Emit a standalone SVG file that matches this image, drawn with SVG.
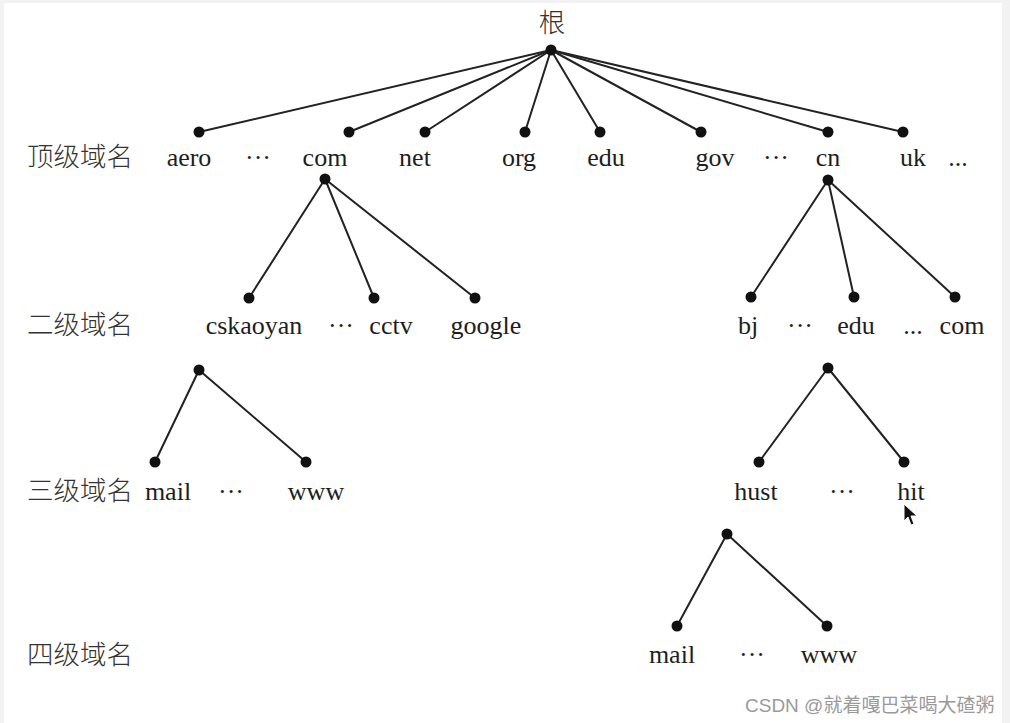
<svg xmlns="http://www.w3.org/2000/svg" width="1010" height="723" viewBox="0 0 1010 723">
<style>
.bg{fill:#f2f2f2}
.pg{fill:#ffffff}
.e{stroke:#222;stroke-width:2;fill:none;stroke-linecap:round}
.d{fill:#111}
.t{font-family:"Liberation Serif","Times New Roman",serif;font-size:26px;fill:#1e1e1e;text-anchor:middle}
.lv{font-family:"Noto Sans CJK SC","Liberation Serif",sans-serif;font-size:26.5px;fill:#333;font-weight:300}
.wm{font-family:"Liberation Sans","Noto Sans CJK SC",sans-serif;font-size:19px;fill:#9a9a9a}
</style>
<rect class="bg" x="0" y="0" width="1010" height="723"/>
<rect class="pg" x="4" y="3" width="998" height="720"/>
<g id="connectors">
<line class="e" x1="551" y1="50" x2="199" y2="132"/>
<line class="e" x1="551" y1="50" x2="349" y2="132"/>
<line class="e" x1="551" y1="50" x2="425" y2="132"/>
<line class="e" x1="551" y1="50" x2="525" y2="132"/>
<line class="e" x1="551" y1="50" x2="600" y2="132"/>
<line class="e" x1="551" y1="50" x2="701" y2="132"/>
<line class="e" x1="551" y1="50" x2="828" y2="132"/>
<line class="e" x1="551" y1="50" x2="903" y2="132"/>
<line class="e" x1="325" y1="179" x2="249" y2="298"/>
<line class="e" x1="325" y1="179" x2="374" y2="298"/>
<line class="e" x1="325" y1="179" x2="475" y2="298"/>
<line class="e" x1="828" y1="180" x2="751" y2="297"/>
<line class="e" x1="828" y1="180" x2="854" y2="297"/>
<line class="e" x1="828" y1="180" x2="955" y2="297"/>
<line class="e" x1="199" y1="370" x2="155" y2="462"/>
<line class="e" x1="199" y1="370" x2="306" y2="462"/>
<line class="e" x1="828" y1="368" x2="759" y2="462"/>
<line class="e" x1="828" y1="368" x2="904" y2="462"/>
<line class="e" x1="727" y1="534" x2="677" y2="626"/>
<line class="e" x1="727" y1="534" x2="827" y2="626"/>
</g>
<g id="levels">
<text class="lv" x="27" y="166">顶级域名</text>
<text class="lv" x="27" y="334">二级域名</text>
<text class="lv" x="27" y="500">三级域名</text>
<text class="lv" x="27" y="664">四级域名</text>
</g>
<g id="root"><circle class="d" cx="551" cy="50" r="5.5"/><text class="lv" x="552" y="32" text-anchor="middle">根</text></g>
<g id="aero"><circle class="d" cx="199" cy="132" r="5.5"/><text class="t" x="189" y="166">aero</text></g>
<g id="com"><circle class="d" cx="349" cy="132" r="5.5"/><circle class="d" cx="325" cy="179" r="5.5"/><text class="t" x="325" y="166">com</text></g>
<g id="net"><circle class="d" cx="425" cy="132" r="5.5"/><text class="t" x="415" y="166">net</text></g>
<g id="org"><circle class="d" cx="525" cy="132" r="5.5"/><text class="t" x="519" y="166">org</text></g>
<g id="edu"><circle class="d" cx="600" cy="132" r="5.5"/><text class="t" x="606" y="166">edu</text></g>
<g id="gov"><circle class="d" cx="701" cy="132" r="5.5"/><text class="t" x="715" y="166">gov</text></g>
<g id="cn"><circle class="d" cx="828" cy="132" r="5.5"/><circle class="d" cx="828" cy="180" r="5.5"/><text class="t" x="828" y="166">cn</text></g>
<g id="uk"><circle class="d" cx="903" cy="132" r="5.5"/><text class="t" x="913" y="166">uk</text></g>
<g id="ellipses">
<text class="t" x="258" y="166">···</text>
<text class="t" x="776" y="166">···</text>
<text class="t" x="958" y="166">...</text>
<text class="t" x="341" y="334">···</text>
<text class="t" x="800" y="334">···</text>
<text class="t" x="913" y="334">...</text>
<text class="t" x="231" y="500">···</text>
<text class="t" x="842" y="500">···</text>
<text class="t" x="752" y="663">···</text>
</g>
<g id="cskaoyan"><circle class="d" cx="249" cy="298" r="5.5"/><circle class="d" cx="199" cy="370" r="5.5"/><text class="t" x="254" y="334">cskaoyan</text></g>
<g id="cctv"><circle class="d" cx="374" cy="298" r="5.5"/><text class="t" x="391" y="334">cctv</text></g>
<g id="google"><circle class="d" cx="475" cy="298" r="5.5"/><text class="t" x="486" y="334">google</text></g>
<g id="bj"><circle class="d" cx="751" cy="297" r="5.5"/><text class="t" x="748" y="334">bj</text></g>
<g id="cn-edu"><circle class="d" cx="854" cy="297" r="5.5"/><circle class="d" cx="828" cy="368" r="5.5"/><text class="t" x="856" y="334">edu</text></g>
<g id="cn-com"><circle class="d" cx="955" cy="297" r="5.5"/><text class="t" x="962" y="334">com</text></g>
<g id="mail3"><circle class="d" cx="155" cy="462" r="5.5"/><text class="t" x="168" y="500">mail</text></g>
<g id="www3"><circle class="d" cx="306" cy="462" r="5.5"/><text class="t" x="316" y="500">www</text></g>
<g id="hust"><circle class="d" cx="759" cy="462" r="5.5"/><circle class="d" cx="727" cy="534" r="5.5"/><text class="t" x="756" y="500">hust</text></g>
<g id="hit"><circle class="d" cx="904" cy="462" r="5.5"/><text class="t" x="911" y="500">hit</text></g>
<g id="mail4"><circle class="d" cx="677" cy="626" r="5.5"/><text class="t" x="672" y="663">mail</text></g>
<g id="www4"><circle class="d" cx="827" cy="626" r="5.5"/><text class="t" x="829" y="663">www</text></g>
<path d="M904 504 L904 521 L908 517 L911 525 L914 524 L911 516 L917 516 Z" fill="#111" stroke="#fff" stroke-width="1"/>
<text class="wm" x="745" y="712">CSDN @就着嘎巴菜喝大碴粥</text>
</svg>
